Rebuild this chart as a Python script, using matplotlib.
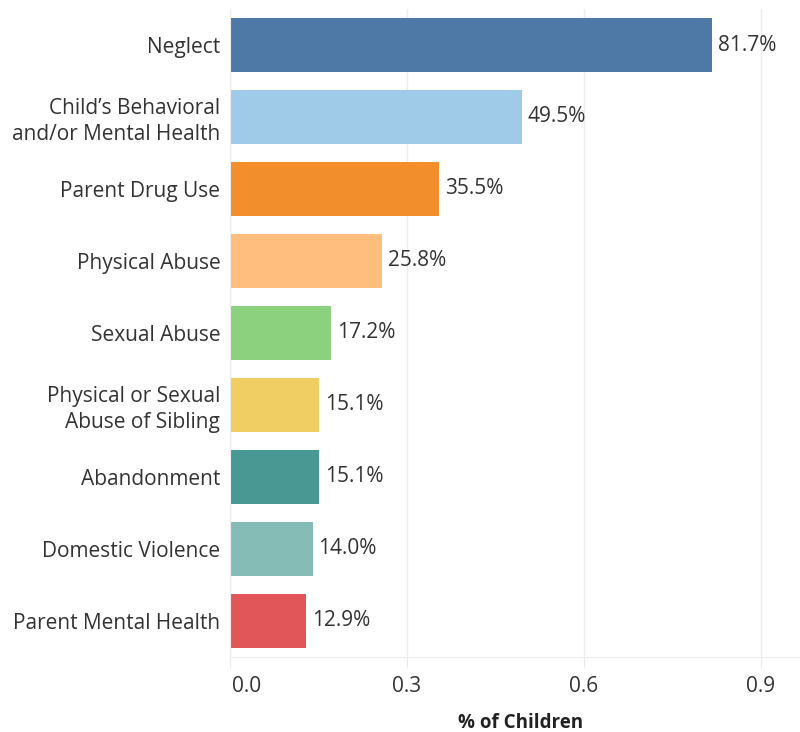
import matplotlib.pyplot as plt
from matplotlib.transforms import ScaledTranslation

plt.rcParams['font.family'] = ['Open Sans', 'DejaVu Sans']

categories = ['Neglect', 'Child\u2019s Behavioral\nand/or Mental Health', 'Parent Drug Use',
              'Physical Abuse', 'Sexual Abuse', 'Physical or Sexual\nAbuse of Sibling',
              'Abandonment', 'Domestic Violence', 'Parent Mental Health']
shares = [0.817, 0.495, 0.355, 0.258, 0.172, 0.151, 0.151, 0.140, 0.129]
colors = ['#4E79A7', '#A0CBE8', '#F28E2B', '#FFBE7D', '#8CD17D',
          '#F1CE63', '#499894', '#86BCB6', '#E15759']
xticks = [0.0, 0.3, 0.6, 0.9]

fig = plt.figure(figsize=(8, 7.32), dpi=100)
ax = fig.add_axes([0.2875, 0.1025, 0.7125, 0.8852])

ypos = range(len(categories))
ax.barh(ypos, shares, height=0.76, color=colors, zorder=2)
ax.set_ylim(len(categories) - 0.5, -0.5)
ax.set_xlim(0, 0.966)

for y, v in zip(ypos, shares):
    ax.annotate(f'{v * 100:.1f}%', xy=(v, y), xytext=(4, 0), textcoords='offset points',
                ha='left', va='center', fontsize=15, color='#333333')

ax.set_yticks(list(ypos))
ax.set_yticklabels(categories, fontsize=15, color='#333333', linespacing=1.3)
ax.tick_params(axis='y', length=0, pad=7)
ax.set_xticks(xticks)
ax.set_xticklabels([f'{t:.1f}' for t in xticks], fontsize=15, color='#333333')
ax.tick_params(axis='x', length=7, color='#e8e8e8', pad=7)
# keep the first tick label inside the plot edge
first = ax.get_xticklabels()[0]
first.set_horizontalalignment('left')
first.set_transform(first.get_transform() + ScaledTranslation(2 / 100, 0, fig.dpi_scale_trans))
ax.set_xlabel('% of Children', fontsize=13.5, fontweight='bold', color='#222222')
ax.xaxis.set_label_coords(0.509, -0.087)

ax.grid(axis='x', color='#ececec', linewidth=1, zorder=0)
for s in ['top', 'right']:
    ax.spines[s].set_visible(False)
ax.spines['left'].set_color('#ececec')
ax.spines['bottom'].set_color('#ececec')

fig.savefig('out.png', dpi=100)
